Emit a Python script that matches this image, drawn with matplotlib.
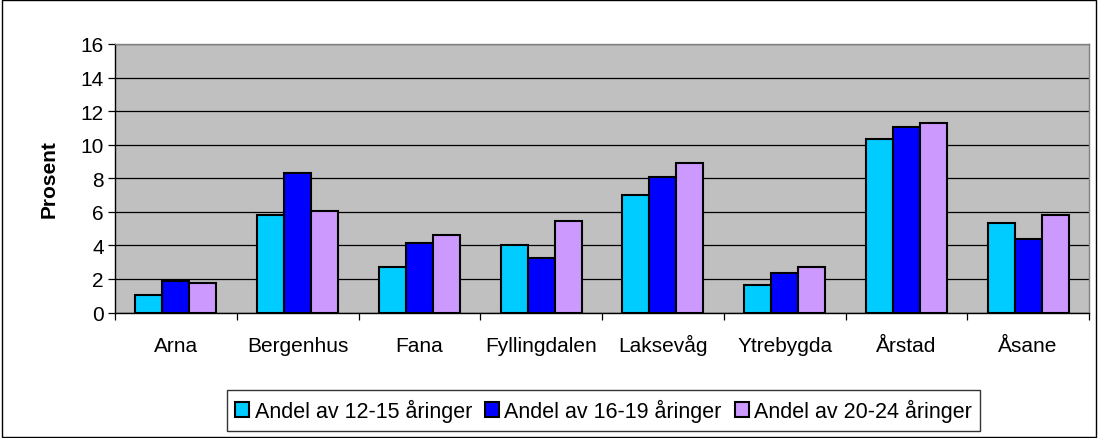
import numpy as np
import matplotlib
matplotlib.use("Agg")
import matplotlib.pyplot as plt
from matplotlib.patches import Rectangle

plt.rcParams["font.family"] = ["Liberation Sans", "DejaVu Sans"]

# ── Data ──────────────────────────────────────────────────────────────────────
bydeler = ["Arna", "Bergenhus", "Fana", "Fyllingdalen", "Laksevåg",
           "Ytrebygda", "Årstad", "Åsane"]
andel_12_15 = [1.05, 5.82, 2.72, 4.03, 7.01, 1.65, 10.35, 5.34]
andel_16_19 = [1.89, 8.33, 4.15, 3.22, 8.09, 2.36, 11.07, 4.39]
andel_20_24 = [1.77, 6.06, 4.63, 5.46, 8.92, 2.72, 11.31, 5.82]
serie_navn = ["Andel av 12-15 åringer", "Andel av 16-19 åringer",
              "Andel av 20-24 åringer"]
y_ticks = [0, 2, 4, 6, 8, 10, 12, 14, 16]

colors = ["#00CCFF", "#0000FF", "#CC99FF"]

# ── Figure ────────────────────────────────────────────────────────────────────
fig = plt.figure(figsize=(10.98, 4.39), dpi=100)
ax = fig.add_axes([115 / 1098, 1 - 313.5 / 439, 974 / 1098, 268.5 / 439])
ax.set_facecolor("#C0C0C0")

x = np.arange(len(bydeler))
w = 0.222
for i, (vals, name) in enumerate(zip([andel_12_15, andel_16_19, andel_20_24],
                                     serie_navn)):
    ax.bar(x + (i - 1) * w, vals, width=w, color=colors[i], edgecolor="black",
           linewidth=1.5, label=name, zorder=3)

ax.set_xlim(-0.5, len(bydeler) - 0.5)
ax.set_ylim(0, 16)
ax.set_yticks(y_ticks)
ax.yaxis.grid(True, color="black", lw=0.9, zorder=1)
ax.set_axisbelow(True)

ax.set_xticks(x)
ax.set_xticklabels(bydeler, fontsize=15)
for lbl in ax.get_xticklabels():
    lbl.set_va("baseline")          # align on baseline so å doesn't shift
ax.set_xticks(np.arange(-0.5, len(bydeler)), minor=True)
ax.tick_params(axis="x", which="major", length=0, pad=27.5)
ax.tick_params(axis="x", which="minor", length=5, width=0.9, direction="out")
ax.tick_params(axis="y", length=5, width=0.9, labelsize=15, pad=3)

for side in ("top", "right"):
    ax.spines[side].set_color("#808080")
    ax.spines[side].set_linewidth(1)
for side in ("left", "bottom"):
    ax.spines[side].set_color("black")
    ax.spines[side].set_linewidth(1)

ax.set_ylabel("Prosent", fontsize=15, fontweight="bold", labelpad=16)

leg = fig.legend(loc="center", bbox_to_anchor=(603.5 / 1098, 1 - 411.5 / 439),
                 ncol=3, fontsize=15.5, frameon=True, fancybox=False,
                 edgecolor="black", handlelength=0.65, handleheight=0.65,
                 handletextpad=0.25, columnspacing=0.6, borderpad=0.4,
                 borderaxespad=0)
leg.get_frame().set_linewidth(1)

# outer chart border
fig.patches.append(Rectangle((0.0015, 0.002), 0.997, 0.996,
                             transform=fig.transFigure, fill=False,
                             edgecolor="black", lw=1))

fig.savefig("out.png", dpi=100)
